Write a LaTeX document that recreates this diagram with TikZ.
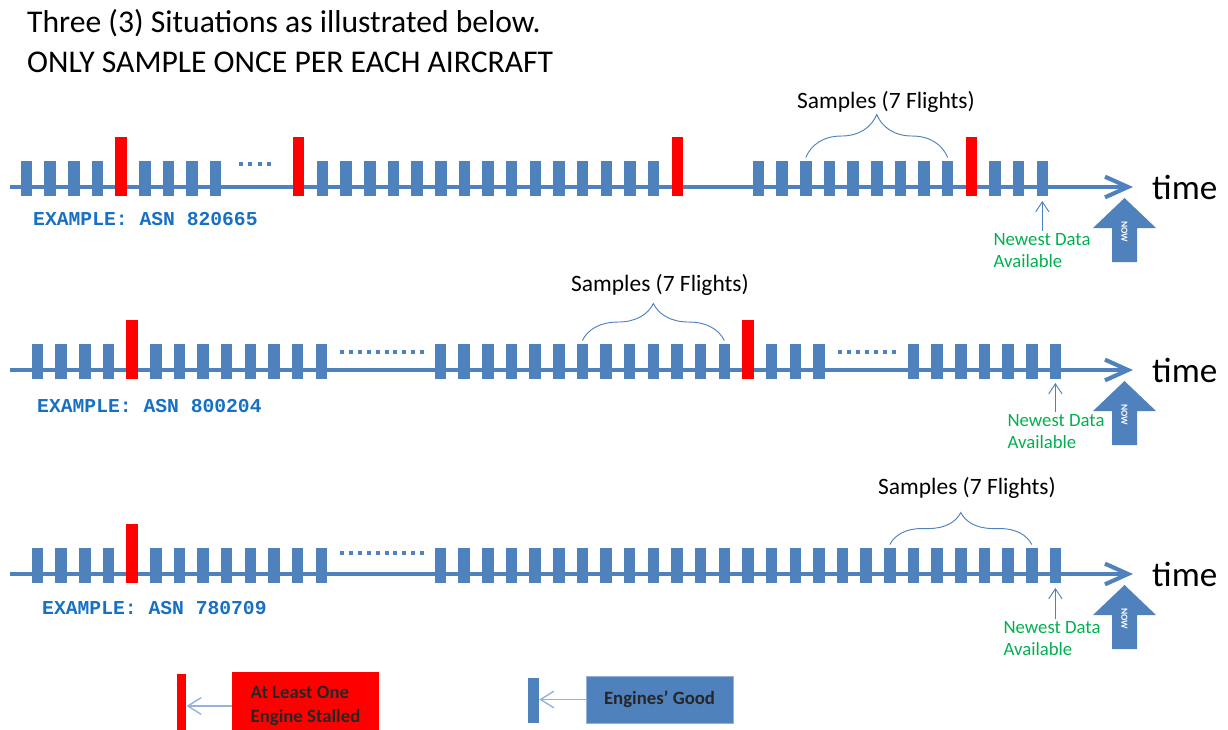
\documentclass[tikz,border=0pt]{standalone}
\usepackage{fontspec}
\setmainfont{Carlito}
\newfontfamily\asnfont{Liberation Mono}
\usetikzlibrary{arrows.meta, decorations.pathreplacing}

\definecolor{barblue}{RGB}{79,129,189}
\definecolor{asnblue}{RGB}{24,112,196}
\definecolor{newgreen}{RGB}{0,176,80}
\definecolor{legblue}{RGB}{149,179,215}

\begin{document}
\begin{tikzpicture}[
  x=0.03cm, y=-0.03cm,
  good/.style={fill=barblue, minimum width=0.345cm, minimum height=1.05cm, inner sep=0pt, anchor=south},
  bad/.style={fill=red, minimum width=0.345cm, minimum height=1.77cm, inner sep=0pt, anchor=south},
  timeline/.style={line width=3.5pt, barblue, -{Straight Barb[length=0.69cm, width=0.62cm]}},
  brc/.style={barblue, line width=0.8pt, decorate},
  smp/.style={font=\fontsize{20}{24}\selectfont, inner sep=0pt},
  asn/.style={font=\asnfont\bfseries\fontsize{16.8}{20}\selectfont, text=asnblue, anchor=west, inner sep=0pt},
  timetxt/.style={font=\fontsize{30}{36}\selectfont, anchor=west, inner sep=0pt},
  newtxt/.style={font=\fontsize{16}{19}\selectfont, text=newgreen, align=left, anchor=north west, inner sep=2pt},
  newarr/.style={barblue, line width=0.8pt, -{Straight Barb[length=0.3cm, width=0.4cm]}},
  nowtxt/.style={font=\bfseries\fontsize{8}{9}\selectfont, text=white, rotate=-90, inner sep=0pt},
  ttl/.style={font=\fontsize{27}{33}\selectfont, anchor=base west, inner sep=0pt},
  legtxt/.style={font=\bfseries\fontsize{16}{21}\selectfont, text=black!85, align=left, minimum width=4.41cm},
  legarr/.style={legblue, line width=1.2pt, -{Straight Barb[length=0.4cm, width=0.5cm]}},
]
\useasboundingbox (0,0) rectangle (1228,730);
\clip (0,0) rectangle (1228,730);

\node[ttl] (t1) at (27,33) {Three (3) Situations as illustrated below.};
\node[ttl] (t2) at (27,72) {ONLY SAMPLE ONCE PER EACH AIRCRAFT};

\foreach \y/\r in {187/1,370/2,574/3}{
  \draw[timeline] (10,\y) -- (1133,\y);
  \node[timetxt] (time\r) at (1152,\y) {time};
  \fill[barblue] (1112,\y+75) -- (1112,\y+41) -- (1093,\y+41) -- (1124.5,\y+11)
    -- (1156,\y+41) -- (1137,\y+41) -- (1137,\y+75) -- cycle;
  \node[nowtxt] (now\r) at (1124.5,\y+45) {NOW};
}

\foreach \k in {0,1,2,3,5,6,7,8} \node[good] (r1a-\k) at ({26.5+\k*23.65},196) {};
\node[bad] (r1a-4) at (121.1,196) {};
\foreach \i in {0,...,3} \fill[barblue] ({239+\i*9.3},162) rectangle +(4,4);
\node[bad] (r1b) at (298.5,196) {};
\foreach \k in {0,...,14} \node[good] (r1c-\k) at ({322.5+\k*23.65},196) {};
\node[bad] (r1d) at (677.3,196) {};
\foreach \k in {0,...,8,10,11,12} \node[good] (r1e-\k) at ({758.5+\k*23.65},196) {};
\node[bad] (r1e-9) at (971.4,196) {};
\draw[brc, decoration={brace, amplitude=1.29cm}] ([yshift=0.09cm]r1e-2.north) -- ([yshift=0.09cm]r1e-8.north);
\node[smp] (s1) at (886,102) {Samples (7 Flights)};
\node[asn] (x1) at (33,219) {EXAMPLE: ASN 820665};
\node[newtxt] (nd1) at (991,231) {Newest Data\\Available};
\draw[newarr] (nd1.north -| r1e-12.south) -- ([yshift=-0.15cm]r1e-12.south);

\foreach \k in {0,1,2,3,5,6,7,8,9,10,11,12} \node[good] (r2a-\k) at ({37.5+\k*23.65},379) {};
\node[bad] (r2a-4) at (132.1,379) {};
\foreach \i in {0,...,9} \fill[barblue] ({340+\i*8.9},350) rectangle +(4,4);
\foreach \k in {0,...,12,14,15,16} \node[good] (r2c-\k) at ({440.5+\k*23.65},379) {};
\node[bad] (r2c-13) at (748,379) {};
\foreach \i in {0,...,6} \fill[barblue] ({838+\i*9},350) rectangle +(4,4);
\foreach \k in {0,...,6} \node[good] (r2g-\k) at ({913.5+\k*23.65},379) {};
\draw[brc, decoration={brace, amplitude=1.11cm}] ([yshift=0.09cm]r2c-6.north) -- ([yshift=0.09cm]r2c-12.north);
\node[smp] (s2) at (660,285) {Samples (7 Flights)};
\node[asn] (x2) at (37,406) {EXAMPLE: ASN 800204};
\node[newtxt] (nd2) at (1005,412) {Newest Data\\Available};
\draw[newarr] (nd2.north -| r2g-6.south) -- ([yshift=-0.12cm]r2g-6.south);

\foreach \k in {0,1,2,3,5,6,7,8,9,10,11,12} \node[good] (r3a-\k) at ({37.5+\k*23.65},583) {};
\node[bad] (r3a-4) at (132.1,583) {};
\foreach \i in {0,...,9} \fill[barblue] ({340+\i*8.9},551) rectangle +(4,4);
\foreach \k in {0,...,26} \node[good] (r3c-\k) at ({440.5+\k*23.65},583) {};
\draw[brc, decoration={brace, amplitude=0.96cm}] ([yshift=0.09cm]r3c-19.north) -- ([yshift=0.09cm]r3c-25.north);
\node[smp] (s3) at (967,488) {Samples (7 Flights)};
\node[asn] (x3) at (42,608) {EXAMPLE: ASN 780709};
\node[newtxt] (nd3) at (1001,619) {Newest Data\\Available};
\draw[newarr] (nd3.north -| r3c-26.south) -- ([yshift=-0.15cm]r3c-26.south);

\node[bad, minimum width=0.285cm, minimum height=2.13cm] (lgbad) at (181.5,745) {};
\node[legtxt, fill=red, minimum height=2.04cm] (lgbadbox) at (305.5,706) {At Least One\\Engine Stalled};
\draw[legarr] (lgbadbox.west) -- (lgbadbox.west -| lgbad.east);
\node[good, minimum width=0.33cm, minimum height=1.35cm] (lggood) at (533.5,723) {};
\node[legtxt, fill=barblue, draw=legblue, minimum height=1.41cm] (lggoodbox) at (659.5,699.5) {Engines’ Good};
\draw[legarr] (lggoodbox.west) -- (lggoodbox.west -| lggood.east);
\end{tikzpicture}
\end{document}
